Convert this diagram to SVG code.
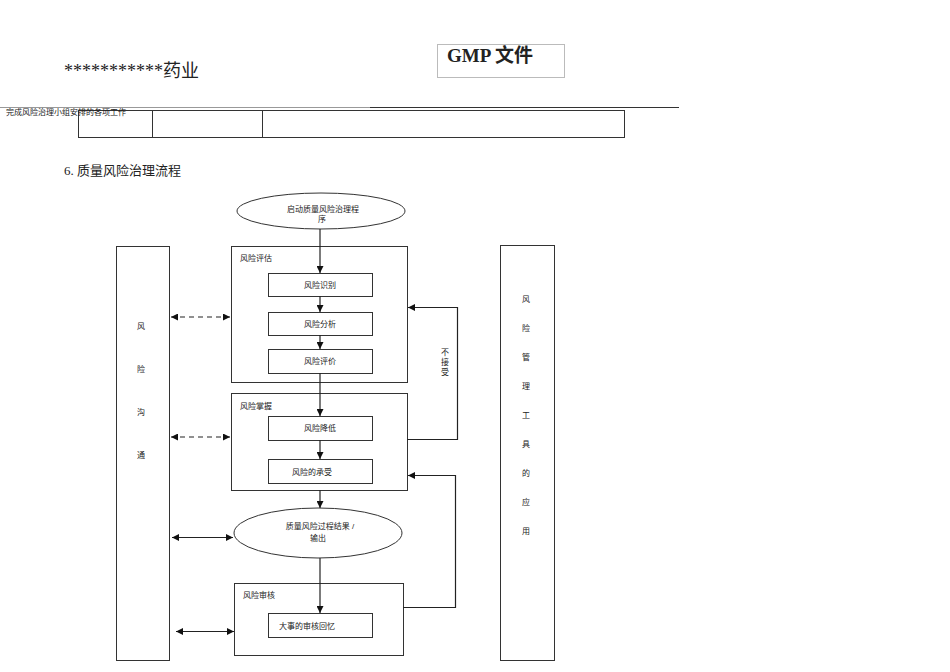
<svg xmlns="http://www.w3.org/2000/svg" width="950" height="672" viewBox="0 0 950 672">
<style>
.sans{font-family:"Liberation Sans","Noto Sans CJK SC",sans-serif;fill:#222;}
.serif{font-family:"Liberation Serif","Noto Sans CJK SC",serif;fill:#222;}
.box{fill:#fff;stroke:#333;stroke-width:1;}
.ln{fill:none;stroke:#222;stroke-width:1.2;}
.dash{fill:none;stroke:#222;stroke-width:1.2;stroke-dasharray:5 4;}
.t8{font-size:8px;}
</style>
<defs>
<marker id="ah" viewBox="0 0 10 10" refX="10" refY="5" markerWidth="7" markerHeight="7" markerUnits="userSpaceOnUse" orient="auto-start-reverse">
<path d="M0,0 L10,5 L0,10 z" fill="#111"/>
</marker>
</defs>
<rect width="950" height="672" fill="#fff"/>

<g id="header">
<text class="serif" x="64" y="77" font-size="18">***********药业</text>
<rect x="437.500" y="44.500" width="127" height="33" fill="#fff" stroke="#bbb"/>
<text class="serif" x="447" y="62" font-size="19" font-weight="bold">GMP 文件</text>
<line x1="0" y1="107.500" x2="370" y2="107.500" stroke="#999" stroke-width="1"/>
<line x1="370" y1="107.500" x2="679" y2="107.500" stroke="#333" stroke-width="1"/>
<rect x="78.500" y="110.500" width="546" height="27" fill="none" stroke="#333"/>
<line x1="152.500" y1="110" x2="152.500" y2="138" stroke="#333"/>
<line x1="262.500" y1="110" x2="262.500" y2="138" stroke="#333"/>
<text class="sans" x="6" y="115" font-size="8">完成风险治理小组安排的各项工作</text>
<text class="serif" x="64" y="175" font-size="13">6. 质量风险治理流程</text>
</g>

<g id="start">
<ellipse class="box" cx="321" cy="211" rx="84" ry="18"/>
<text class="sans t8" x="323" y="212" text-anchor="middle">启动质量风险治理程</text>
<text class="sans t8" x="322" y="222" text-anchor="middle">序</text>
</g>

<g id="assess">
<rect class="box" x="231.500" y="246.500" width="176" height="136"/>
<text class="sans t8" x="240" y="261">风险评估</text>
</g>
<g id="identify">
<rect class="box" x="268.500" y="273.500" width="104" height="23"/>
<text class="sans t8" x="320" y="288" text-anchor="middle">风险识别</text>
</g>
<g id="analyze">
<rect class="box" x="268.500" y="312.500" width="104" height="23"/>
<text class="sans t8" x="320" y="327" text-anchor="middle">风险分析</text>
</g>
<g id="evaluate">
<rect class="box" x="268.500" y="349.500" width="104" height="24"/>
<text class="sans t8" x="320" y="364" text-anchor="middle">风险评价</text>
</g>

<g id="control">
<rect class="box" x="231.500" y="393.500" width="176" height="97" stroke-width="1.3"/>
<text class="sans t8" x="240" y="409">风险掌握</text>
</g>
<g id="reduce">
<rect class="box" x="268.500" y="416.500" width="104" height="24"/>
<text class="sans t8" x="320" y="431" text-anchor="middle">风险降低</text>
</g>
<g id="accept">
<rect class="box" x="268.500" y="459.500" width="104" height="24"/>
<text class="sans t8" x="312" y="475" text-anchor="middle">风险的承受</text>
</g>

<g id="output">
<ellipse class="box" cx="318" cy="533" rx="84" ry="25"/>
<text class="sans t8" x="320" y="529" text-anchor="middle">质量风险过程结果 /</text>
<text class="sans t8" x="318" y="541" text-anchor="middle">输出</text>
</g>

<g id="review">
<rect class="box" x="234.500" y="583.500" width="169" height="72"/>
<text class="sans t8" x="243" y="598">风险审核</text>
</g>
<g id="event">
<rect class="box" x="268.500" y="613.500" width="104" height="24"/>
<text class="sans t8" x="279" y="629">大事的审核回忆</text>
</g>

<g id="communication">
<rect class="box" x="116.500" y="246.500" width="53" height="414"/>
<text class="sans t8" x="141" y="329" text-anchor="middle">风</text>
<text class="sans t8" x="141" y="372" text-anchor="middle">险</text>
<text class="sans t8" x="141" y="415" text-anchor="middle">沟</text>
<text class="sans t8" x="141" y="458" text-anchor="middle">通</text>
</g>

<g id="tools">
<rect class="box" x="500.500" y="245.500" width="54" height="415"/>
<text class="sans t8" x="526" y="302" text-anchor="middle">风</text>
<text class="sans t8" x="526" y="331" text-anchor="middle">险</text>
<text class="sans t8" x="526" y="360" text-anchor="middle">管</text>
<text class="sans t8" x="526" y="389" text-anchor="middle">理</text>
<text class="sans t8" x="526" y="418" text-anchor="middle">工</text>
<text class="sans t8" x="526" y="447" text-anchor="middle">具</text>
<text class="sans t8" x="526" y="476" text-anchor="middle">的</text>
<text class="sans t8" x="526" y="505" text-anchor="middle">应</text>
<text class="sans t8" x="526" y="534" text-anchor="middle">用</text>
</g>

<g id="connectors">
<line class="ln" x1="320" y1="229" x2="320" y2="273" marker-end="url(#ah)"/>
<line class="ln" x1="320" y1="296" x2="320" y2="312" marker-end="url(#ah)"/>
<line class="ln" x1="320" y1="335" x2="320" y2="349" marker-end="url(#ah)"/>
<line class="ln" x1="320" y1="373" x2="320" y2="416" marker-end="url(#ah)"/>
<line class="ln" x1="320" y1="440" x2="320" y2="459" marker-end="url(#ah)"/>
<line class="ln" x1="320" y1="490" x2="320" y2="508" marker-end="url(#ah)"/>
<line class="ln" x1="320" y1="558" x2="320" y2="613" marker-end="url(#ah)"/>
<polyline class="ln" points="407,439.500 457.500,439.500 457.500,307.500 408,307.500" marker-end="url(#ah)"/>
<polyline class="ln" points="403,607.500 455.500,607.500 455.500,475.500 408,475.500" marker-end="url(#ah)"/>
<line class="dash" x1="171" y1="317" x2="230" y2="317" marker-start="url(#ah)" marker-end="url(#ah)"/>
<line class="dash" x1="171" y1="437" x2="230" y2="437" marker-start="url(#ah)" marker-end="url(#ah)"/>
<line class="ln" x1="172" y1="537.500" x2="233" y2="537.500" marker-start="url(#ah)" marker-end="url(#ah)"/>
<line class="ln" x1="176" y1="631.500" x2="234" y2="631.500" marker-start="url(#ah)" marker-end="url(#ah)"/>
<text class="sans t8" x="445" y="355" text-anchor="middle">不</text>
<text class="sans t8" x="445" y="365" text-anchor="middle">接</text>
<text class="sans t8" x="445" y="375" text-anchor="middle">受</text>
</g>
</svg>
